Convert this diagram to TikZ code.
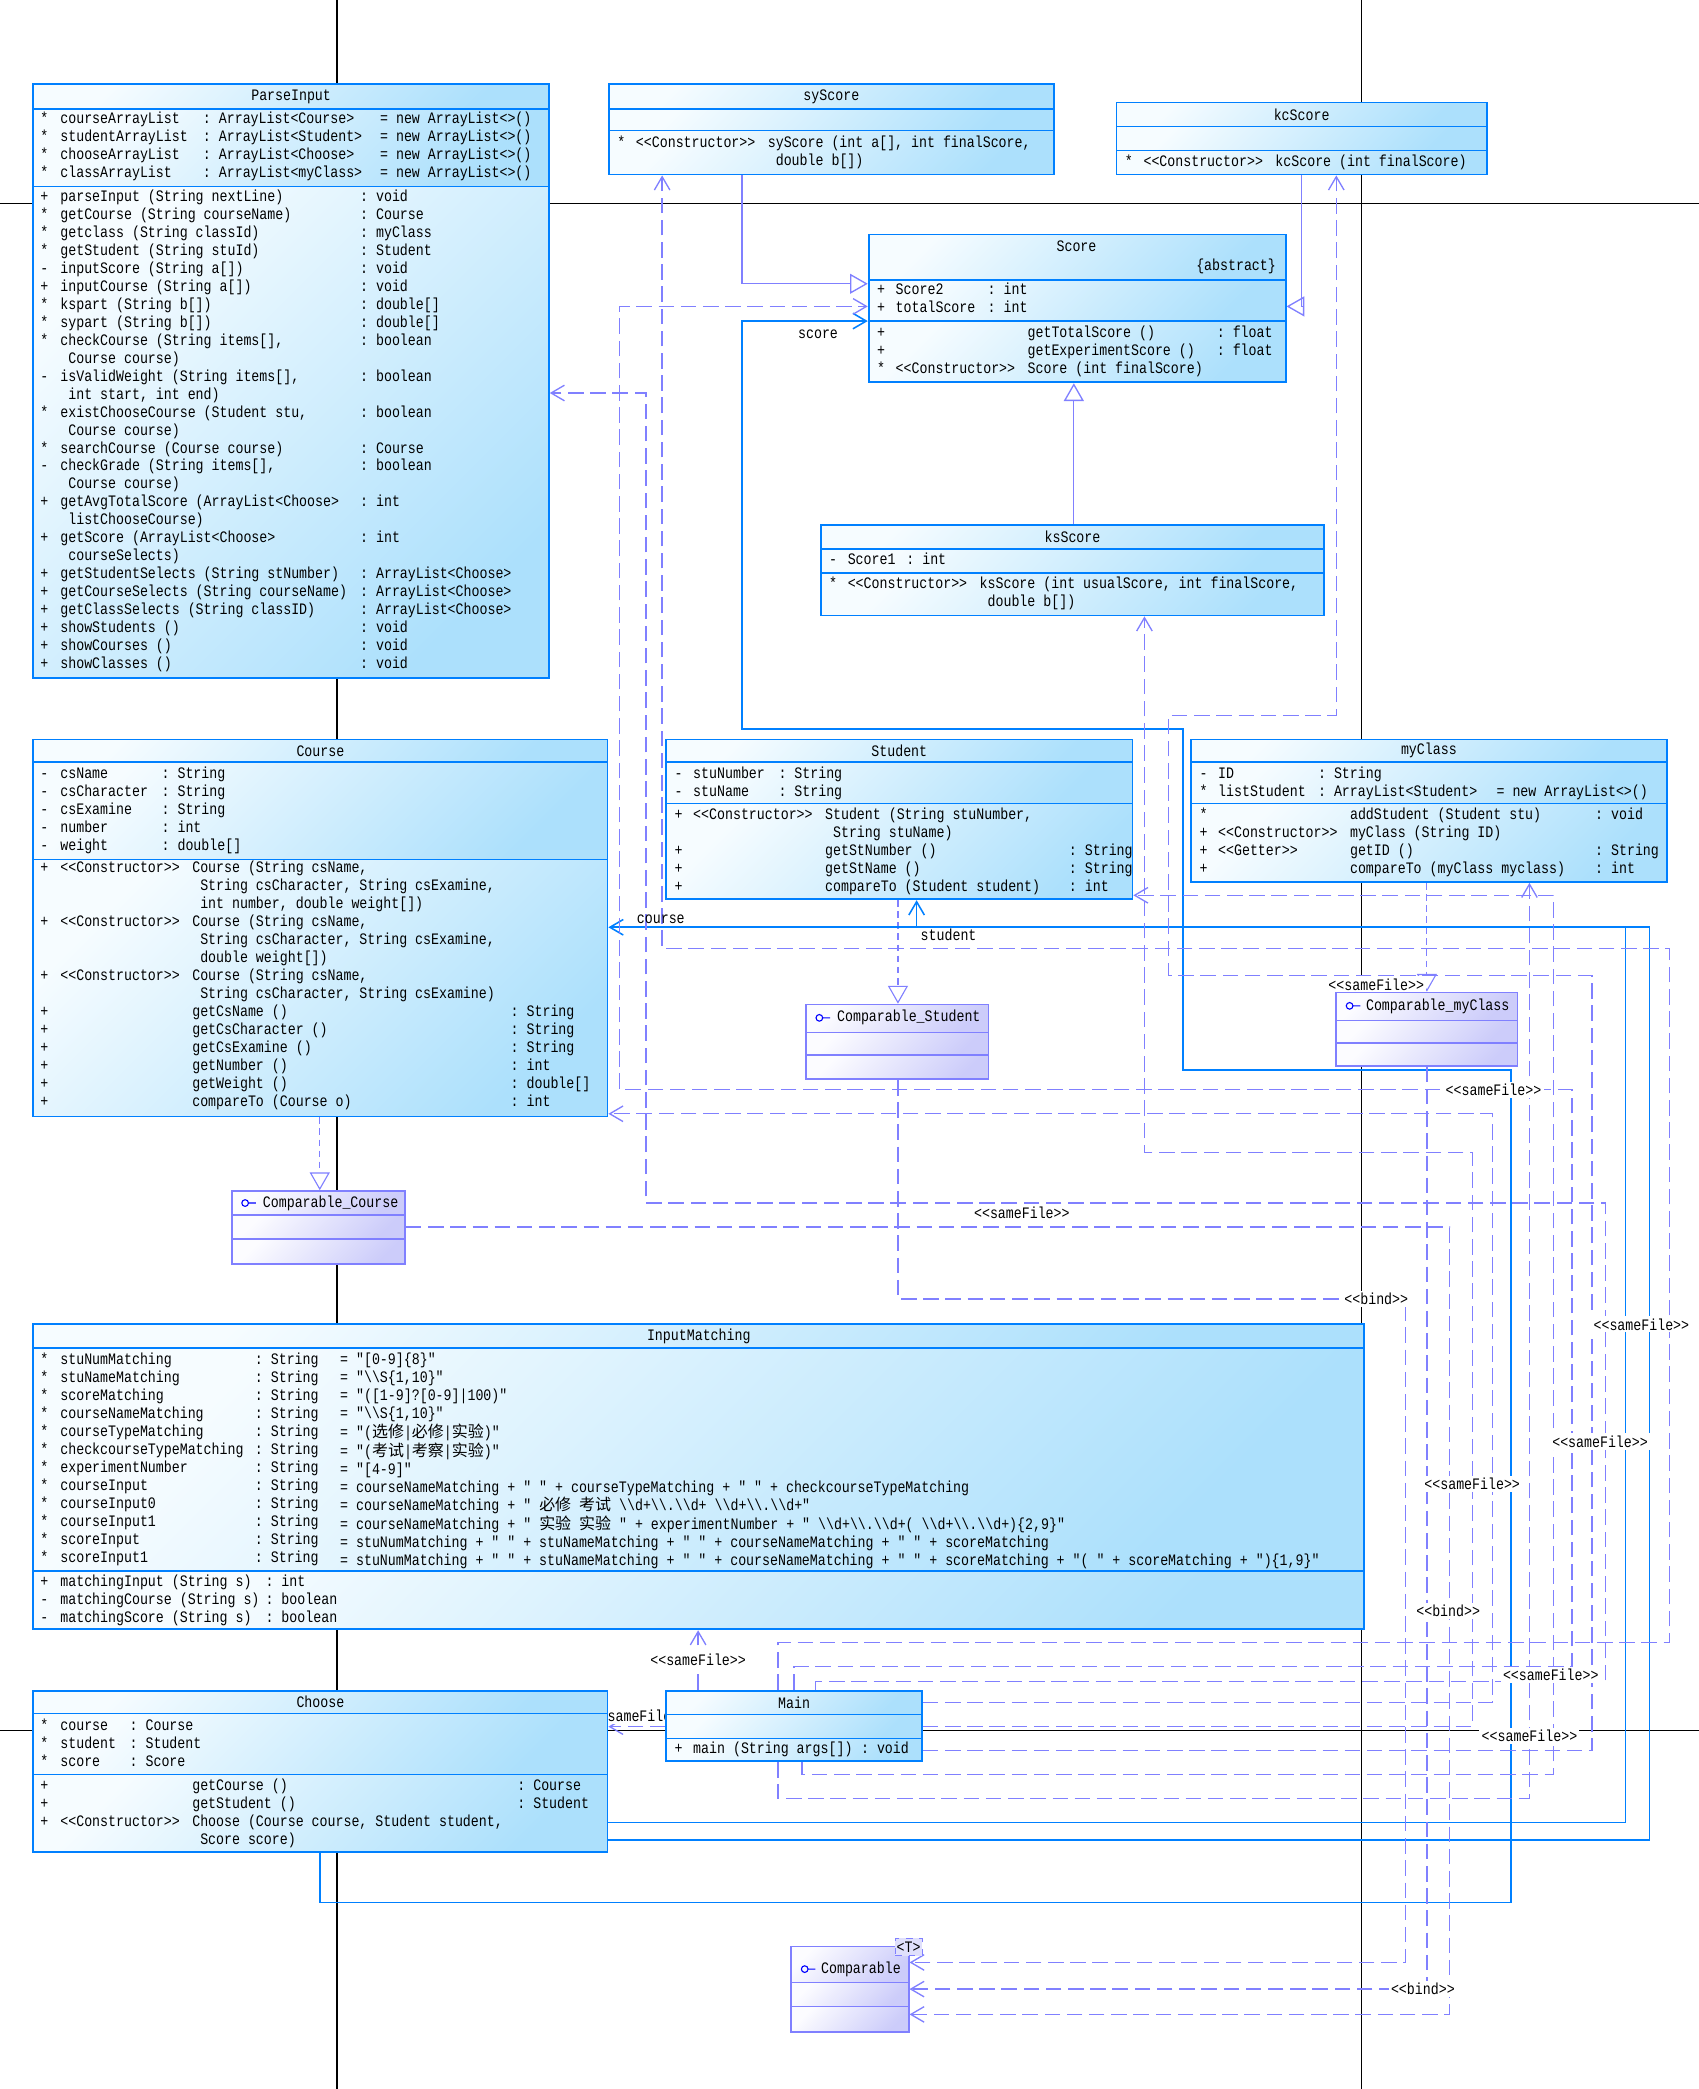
\documentclass[tikz,border=0pt]{standalone}
\usepackage{fontspec}
\setmonofont[FakeStretch=0.83]{Liberation Mono}
\newfontfamily\cjk{Noto Sans CJK SC}
\usetikzlibrary{arrows.meta,fit,calc}
\definecolor{clsline}{RGB}{0,128,255}
\definecolor{clstop}{RGB}{246,252,255}
\definecolor{clsbot}{RGB}{172,224,252}
\definecolor{ifline}{RGB}{128,128,255}
\definecolor{iftop}{RGB}{252,252,255}
\definecolor{ifbot}{RGB}{204,204,250}
\definecolor{depc}{RGB}{128,128,255}
\definecolor{assocc}{RGB}{0,128,255}
\definecolor{iconc}{RGB}{0,0,255}
\newcommand{\bs}{\textbackslash}
\pgfdeclarelayer{back}
\pgfdeclarelayer{bg}
\pgfsetlayers{back,bg,main}

% class box: name, x1, y1, x2, y2, first separator, second separator
\newcommand{\umlclass}[7]{%
  \shade[clsshade] (#2,#3) rectangle (#4,#6);
  \shade[clsshade] (#2,#6) rectangle (#4,#7);
  \shade[clsshade] (#2,#7) rectangle (#4,#5);
  \draw[clsline, line width=0.7pt] (#2,#6) -- (#4,#6) (#2,#7) -- (#4,#7);
  \node[clsbox, fit={(#2,#3) (#4,#5)}] (#1) {};}
\newcommand{\umliface}[7]{%
  \shade[ifshade] (#2,#3) rectangle (#4,#6);
  \shade[ifshade] (#2,#6) rectangle (#4,#7);
  \shade[ifshade] (#2,#7) rectangle (#4,#5);
  \draw[ifline, line width=0.7pt] (#2,#6) -- (#4,#6) (#2,#7) -- (#4,#7);
  \node[ifbox, fit={(#2,#3) (#4,#5)}] (#1) {};}
% one text column, given by the centre of its first row
\newcommand{\col}[4]{\node[txt] (#1) at (#2,#3-6.75) {\begin{tabular}{@{}l@{}}#4\end{tabular}};}

\begin{document}
\begin{tikzpicture}[x=0.6pt, y=-0.6pt,
  font=\ttfamily\fontsize{7.2}{8.1}\selectfont,
  clsbox/.style={draw=clsline, line width=0.8pt, inner sep=0pt},
  clsshade/.style={top color=clstop, bottom color=clsbot, shading angle=45},
  ifbox/.style={draw=ifline, line width=0.8pt, inner sep=0pt},
  ifshade/.style={top color=iftop, bottom color=ifbot, shading angle=45},
  txt/.style={anchor=north west, inner sep=0pt},
  ttl/.style={inner sep=0pt},
  lbl/.style={inner sep=1pt, fill=white},
  pageline/.style={black, line width=0.6pt},
  gen/.style={depc, line width=0.6pt, -{Triangle[open, length=8pt, width=9pt]}},
  real/.style={depc, line width=0.5pt, dash pattern=on 3pt off 2pt, -{Triangle[open, length=8pt, width=9pt]}},
  dep/.style={depc, line width=0.6pt, dash pattern=on 7pt off 3pt, -{Straight Barb[length=6pt, width=7pt]}},
  assoc/.style={assocc, line width=0.7pt, -{Straight Barb[length=6pt, width=7pt]}},
  icon/.style={iconc, line width=0.5pt}]
\begin{pgfonlayer}{back}
\fill[white] (0,0) rectangle (1275,1568);
\end{pgfonlayer}
\useasboundingbox (0,0) rectangle (1275,1568);

% ParseInput
\umlclass{parse}{25}{63}{412}{509}{82}{140}
\node[ttl] (parse-t) at (218.5,72.5) {ParseInput};
\col{parse-a1}{30}{90}{{*}\\{*}\\{*}\\{*}}
\col{parse-a2}{45}{90}{courseArrayList\\studentArrayList\\chooseArrayList\\classArrayList}
\col{parse-a3}{152}{90}{: ArrayList<Course>\\: ArrayList<Student>\\: ArrayList<Choose>\\: ArrayList<myClass>}
\col{parse-a4}{285}{90}{= new ArrayList<>()\\= new ArrayList<>()\\= new ArrayList<>()\\= new ArrayList<>()}
\col{parse-m1}{30}{148}{+\\{*}\\{*}\\{*}\\-\\+\\{*}\\{*}\\{*}\\ \\-\\ \\{*}\\ \\{*}\\-\\ \\+\\ \\+\\ \\+\\+\\+\\+\\+\\+}
\col{parse-m2}{45}{148}{parseInput (String nextLine)\\getCourse (String courseName)\\getclass (String classId)\\getStudent (String stuId)\\inputScore (String a[])\\inputCourse (String a[])\\kspart (String b[])\\sypart (String b[])\\checkCourse (String items[],\\~Course course)\\isValidWeight (String items[],\\~int start, int end)\\existChooseCourse (Student stu,\\~Course course)\\searchCourse (Course course)\\checkGrade (String items[],\\~Course course)\\getAvgTotalScore (ArrayList<Choose>\\~listChooseCourse)\\getScore (ArrayList<Choose>\\~courseSelects)\\getStudentSelects (String stNumber)\\getCourseSelects (String courseName)\\getClassSelects (String classID)\\showStudents ()\\showCourses ()\\showClasses ()}
\col{parse-m3}{270}{148}{: void\\: Course\\: myClass\\: Student\\: void\\: void\\: double[]\\: double[]\\: boolean\\ \\: boolean\\ \\: boolean\\ \\: Course\\: boolean\\ \\: int\\ \\: int\\ \\: ArrayList<Choose>\\: ArrayList<Choose>\\: ArrayList<Choose>\\: void\\: void\\: void}

% syScore, kcScore, Score, ksScore
\umlclass{sy}{457}{63}{791}{131}{82}{98}
\node[ttl] (sy-t) at (624,72.5) {syScore};
\col{sy-m1}{463}{108}{{*}}
\col{sy-m2}{477}{108}{<<Constructor>>}
\col{sy-m3}{576}{108}{syScore (int a[], int finalScore,\\~double b[])}
\umlclass{kc}{838}{77}{1116}{131}{95}{113}
\node[ttl] (kc-t) at (977,86) {kcScore};
\col{kc-m1}{844}{122}{{*}}
\col{kc-m2}{858}{122}{<<Constructor>>}
\col{kc-m3}{957}{122}{kcScore (int finalScore)}
\umlclass{score}{652}{176}{965}{287}{210}{241}
\node[ttl] (score-t) at (808,185) {Score};
\node[ttl, anchor=east] (score-s) at (958,200) {\{abstract\}};
\col{score-a1}{658}{218}{+\\+}
\col{score-a2}{672}{218}{Score2\\totalScore}
\col{score-a3}{741}{218}{: int\\: int}
\col{score-m1}{658}{250}{+\\+\\{*}}
\col{score-m2}{672}{250}{\\ \\<<Constructor>>}
\col{score-m3}{771}{250}{getTotalScore ()\\getExperimentScore ()\\Score (int finalScore)}
\col{score-m4}{913}{250}{: float\\: float}
\umlclass{ks}{616}{394}{994}{462}{412}{430}
\node[ttl] (ks-t) at (805,403) {ksScore};
\col{ks-a1}{622}{421}{-}
\col{ks-a2}{636}{421}{Score1}
\col{ks-a3}{680}{421}{: int}
\col{ks-m1}{622}{439}{{*}}
\col{ks-m2}{636}{439}{<<Constructor>>}
\col{ks-m3}{735}{439}{ksScore (int usualScore, int finalScore,\\~double b[])}

% Course, Student, myClass
\umlclass{course}{25}{555}{456}{838}{572}{645}
\node[ttl] (course-t) at (240.5,563.5) {Course};
\col{course-a1}{30}{581}{-\\-\\-\\-\\-}
\col{course-a2}{45}{581}{csName\\csCharacter\\csExamine\\number\\weight}
\col{course-a3}{121}{581}{: String\\: String\\: String\\: int\\: double[]}
\col{course-m1}{30}{652}{+\\ \\ \\+\\ \\ \\+\\ \\+\\+\\+\\+\\+\\+}
\col{course-m2}{45}{652}{<<Constructor>>\\ \\ \\<<Constructor>>\\ \\ \\<<Constructor>>}
\col{course-m3}{144}{652}{Course (String csName,\\~String csCharacter, String csExamine,\\~int number, double weight[])\\Course (String csName,\\~String csCharacter, String csExamine,\\~double weight[])\\Course (String csName,\\~String csCharacter, String csExamine)\\getCsName ()\\getCsCharacter ()\\getCsExamine ()\\getNumber ()\\getWeight ()\\compareTo (Course o)}
\col{course-m4}{383}{652}{\\ \\ \\ \\ \\ \\ \\ \\: String\\: String\\: String\\: int\\: double[]\\: int}
\umlclass{student}{500}{555}{850}{675}{572}{603}
\node[ttl] (student-t) at (675,563.5) {Student};
\col{student-a1}{506}{581}{-\\-}
\col{student-a2}{520}{581}{stuNumber\\stuName}
\col{student-a3}{584}{581}{: String\\: String}
\col{student-m1}{506}{612}{+\\ \\+\\+\\+}
\col{student-m2}{520}{612}{<<Constructor>>}
\col{student-m3}{619}{612}{Student (String stuNumber,\\~String stuName)\\getStNumber ()\\getStName ()\\compareTo (Student student)}
\col{student-m4}{802}{612}{\\ \\: String\\: String\\: int}
\umlclass{myclass}{894}{555}{1251}{662}{572}{603}
\node[ttl] (myclass-t) at (1072.5,563.5) {myClass};
\col{myclass-a1}{900}{581}{-\\{*}}
\col{myclass-a2}{914}{581}{ID\\listStudent}
\col{myclass-a3}{989}{581}{: String\\: ArrayList<Student>}
\col{myclass-a4}{1123}{581}{\\= new ArrayList<>()}
\col{myclass-m1}{900}{612}{{*}\\+\\+\\+}
\col{myclass-m2}{914}{612}{\\<<Constructor>>\\<<Getter>>}
\col{myclass-m3}{1013}{612}{addStudent (Student stu)\\myClass (String ID)\\getID ()\\compareTo (myClass myclass)}
\col{myclass-m4}{1197}{612}{: void\\ \\: String\\: int}

% interfaces
\umliface{cst}{605}{754}{742}{810}{775}{792}
\draw[icon] (615,764) circle (1.5pt) (617.5,764) -- (623,764);
\node[txt, anchor=west] (cst-t) at (628,764) {Comparable\_Student};
\umliface{cmc}{1003}{745}{1139}{800}{766}{783}
\draw[icon] (1013,755) circle (1.5pt) (1015.5,755) -- (1021,755);
\node[txt, anchor=west] (cmc-t) at (1025,755) {Comparable\_myClass};
\umliface{cco}{174}{894}{304}{949}{912}{930}
\draw[icon] (184,903) circle (1.5pt) (186.5,903) -- (192,903);
\node[txt, anchor=west] (cco-t) at (197,903) {Comparable\_Course};
\umliface{cmp}{594}{1461}{682}{1525}{1488}{1506}
\draw[icon] (604,1478) circle (1.5pt) (606.5,1478) -- (612,1478);
\node[txt, anchor=west] (cmp-t) at (616,1478) {Comparable};
\node[fit={(672,1455) (692,1468)}, inner sep=0pt, draw=ifline, dashed, fill=ifbot!60] (cmp-p) {};
\node[ttl] (cmp-pt) at (682,1461.5) {<T>};

% InputMatching
\umlclass{im}{25}{994}{1024}{1223}{1012}{1179}
\node[ttl] (im-t) at (524.5,1003) {InputMatching};
\col{im-a1}{30}{1021}{{*}\\{*}\\{*}\\{*}\\{*}\\{*}\\{*}\\{*}\\{*}\\{*}\\{*}\\{*}}
\col{im-a2}{45}{1021}{stuNumMatching\\stuNameMatching\\scoreMatching\\courseNameMatching\\courseTypeMatching\\checkcourseTypeMatching\\experimentNumber\\courseInput\\courseInput0\\courseInput1\\scoreInput\\scoreInput1}
\col{im-a3}{191}{1021}{: String\\: String\\: String\\: String\\: String\\: String\\: String\\: String\\: String\\: String\\: String\\: String}
\col{im-a4}{255}{1021}{= "[0-9]\{8\}"\\= "\bs\bs S\{1,10\}"\\= "([1-9]?[0-9]|100)"\\= "\bs\bs S\{1,10\}"\\= "({\cjk 选修}|{\cjk 必修}|{\cjk 实验})"\\= "({\cjk 考试}|{\cjk 考察}|{\cjk 实验})"\\= "[4-9]"\\= courseNameMatching + " " + courseTypeMatching + " " + checkcourseTypeMatching\\= courseNameMatching + " {\cjk 必修} {\cjk 考试} \bs\bs d+\bs\bs.\bs\bs d+ \bs\bs d+\bs\bs.\bs\bs d+"\\= courseNameMatching + " {\cjk 实验} {\cjk 实验} " + experimentNumber + " \bs\bs d+\bs\bs.\bs\bs d+( \bs\bs d+\bs\bs.\bs\bs d+)\{2,9\}"\\= stuNumMatching + " " + stuNameMatching + " " + courseNameMatching + " " + scoreMatching\\= stuNumMatching + " " + stuNameMatching + " " + courseNameMatching + " " + scoreMatching + "( " + scoreMatching + ")\{1,9\}"}
\col{im-m1}{30}{1188}{+\\-\\-}
\col{im-m2}{45}{1188}{matchingInput (String s)\\matchingCourse (String s)\\matchingScore (String s)}
\col{im-m3}{199}{1188}{: int\\: boolean\\: boolean}

% Choose, Main
\umlclass{choose}{25}{1269}{456}{1390}{1286}{1332}
\node[ttl] (choose-t) at (240.5,1277.5) {Choose};
\col{choose-a1}{30}{1296}{{*}\\{*}\\{*}}
\col{choose-a2}{45}{1296}{course\\student\\score}
\col{choose-a3}{97}{1296}{: Course\\: Student\\: Score}
\col{choose-m1}{30}{1341}{+\\+\\+}
\col{choose-m2}{45}{1341}{\\ \\<<Constructor>>}
\col{choose-m3}{144}{1341}{getCourse ()\\getStudent ()\\Choose (Course course, Student student,\\~Score score)}
\col{choose-m4}{388}{1341}{: Course\\: Student}
\umlclass{main}{500}{1269}{692}{1322}{1287}{1305}
\node[ttl] (main-t) at (596,1278) {Main};
\col{main-m1}{506}{1313}{+}
\col{main-m2}{520}{1313}{main (String args[])}
\col{main-m3}{646}{1313}{: void}

\begin{pgfonlayer}{bg}
% page break lines
\draw[pageline] (253,0) -- (253,1568) (1022,0) -- (1022,1568);
\draw[pageline] (0,153) -- (1275,153) (0,1299) -- (1275,1299);
% generalization and realization
\draw[gen] (sy.south -| 557,0) |- (score.west |- 0,213);
\draw[gen] (kc.south -| 977,0) |- (score.east |- 0,230);
\draw[gen] (ks.north -| 806,0) -- (score.south -| 806,0);
\draw[real] (course.south -| 240,0) -- (cco.north -| 240,0);
\draw[real] (student.south -| 674,0) -- (cst.north -| 674,0);
\draw[real] (myclass.south -| 1071,0) -- (cmc.north -| 1071,0);
% associations of Choose
\draw[assoc] (choose.south -| 240,0) |- (1134,1428) |- (888,803) |- (557,547) |- (score.west |- 0,241);
\draw[assoc] (choose.east |- 0,1368) -| (1220,696) -- (course.east |- 0,696);
\draw[assoc] (choose.east |- 0,1381) -| (1238,696) -| (student.south -| 688,0);
% sameFile dependencies of Main
\draw[dep] (main.north -| 524,0) -- (im.south -| 524,0);
\draw[dep] (main.west |- 0,1296) -- (choose.east |- 0,1296);
\draw[dep] (main.north -| 584,0) |- (1253,1233) |- (497,712) -- (sy.south -| 497,0);
\draw[dep] (main.north -| 596,0) |- (1180,1251) |- (465,818) |- (score.west |- 0,230);
\draw[dep] (main.north -| 612,0) |- (1205,1262) |- (485,903) |- (parse.east |- 0,295);
\draw[dep] (main.east |- 0,1278) -| (1120,836) -- (course.east |- 0,836);
\draw[dep] (main.east |- 0,1296) -| (1105,865) -| (ks.south -| 859,0);
\draw[dep] (main.east |- 0,1314) -| (1195,732) -| (877,537) -| (kc.south -| 1003,0);
\draw[dep] (main.south -| 602,0) |- (1166,1332) |- (student.east |- 0,672);
\draw[dep] (main.south -| 584,0) |- (1148,1350) -- (myclass.south -| 1148,0);
% bind
\draw[dep] (cst.south -| 674,0) |- (1055,975) |- (cmp.east |- 0,1473);
\draw[dep] (cmc.south -| 1071,0) |- (cmp.east |- 0,1493);
\draw[dep] (cco.east |- 0,921) -| (1088,1512) -- (cmp.east |- 0,1512);
% labels
\node[lbl, fill=none] (l-score) at (614,251) {score};
\node[lbl, fill=none] (l-course) at (496,690) {course};
\node[lbl, fill=none] (l-student) at (712,702) {student};
\node[lbl] (l-sf1) at (524,1246) {<<sameFile>>};
\node[lbl] (l-sf2) at (480,1288) {<<sameFile>>};
\node[lbl] (l-sf3) at (1033,739) {<<sameFile>>};
\node[lbl] (l-sf4) at (1121,818) {<<sameFile>>};
\node[lbl] (l-sf5) at (767,910) {<<sameFile>>};
\node[lbl] (l-sf6) at (1232,994) {<<sameFile>>};
\node[lbl] (l-sf7) at (1201,1082) {<<sameFile>>};
\node[lbl] (l-sf8) at (1105,1114) {<<sameFile>>};
\node[lbl] (l-sf9) at (1164,1257) {<<sameFile>>};
\node[lbl] (l-sf10) at (1148,1303) {<<sameFile>>};
\node[lbl] (l-b1) at (1033,975) {<<bind>>};
\node[lbl] (l-b2) at (1087,1209) {<<bind>>};
\node[lbl] (l-b3) at (1068,1493) {<<bind>>};
\end{pgfonlayer}
\end{tikzpicture}
\end{document}
